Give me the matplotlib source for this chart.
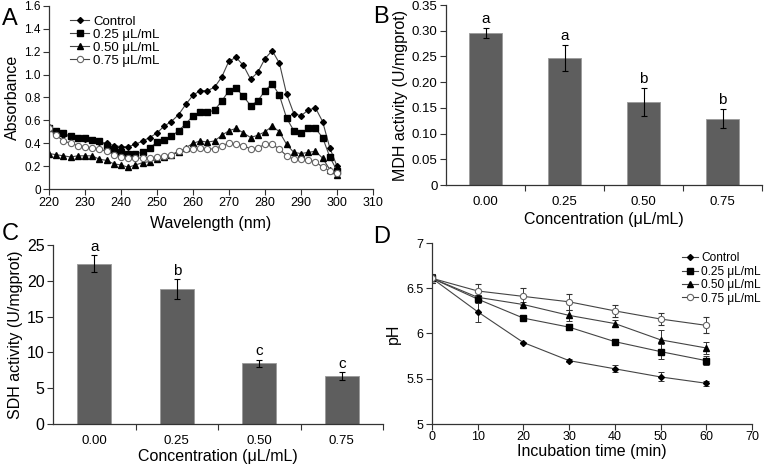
import numpy as np
import matplotlib
matplotlib.use("Agg")
import matplotlib.pyplot as plt
from matplotlib.ticker import FuncFormatter, FixedLocator

plt.rcParams['font.family'] = ['Liberation Sans', 'DejaVu Sans']

# ---------------- data ----------------
wavelength = list(range(220, 301, 2))
abs_control = [0.54, 0.49, 0.47, 0.46, 0.45, 0.44, 0.43, 0.41, 0.40, 0.38, 0.37,
               0.37, 0.39, 0.42, 0.45, 0.49, 0.55, 0.59, 0.65, 0.74, 0.82,
               0.86, 0.86, 0.89, 0.98, 1.12, 1.15, 1.08, 0.96, 1.02, 1.14,
               1.21, 1.10, 0.83, 0.66, 0.64, 0.69, 0.71, 0.59, 0.36, 0.20]
abs_025 = [0.53, 0.51, 0.49, 0.46, 0.45, 0.45, 0.43, 0.42, 0.38, 0.34, 0.32,
           0.31, 0.31, 0.32, 0.36, 0.41, 0.43, 0.46, 0.51, 0.57, 0.64,
           0.67, 0.67, 0.69, 0.77, 0.86, 0.88, 0.81, 0.73, 0.77, 0.86,
           0.92, 0.82, 0.62, 0.51, 0.49, 0.53, 0.53, 0.45, 0.28, 0.16]
abs_050 = [0.31, 0.30, 0.29, 0.28, 0.29, 0.29, 0.29, 0.26, 0.25, 0.22, 0.21,
           0.19, 0.21, 0.23, 0.24, 0.26, 0.28, 0.30, 0.32, 0.36, 0.40,
           0.42, 0.41, 0.42, 0.47, 0.51, 0.53, 0.49, 0.45, 0.47, 0.50,
           0.55, 0.50, 0.39, 0.32, 0.31, 0.32, 0.33, 0.27, 0.17, 0.12]
abs_075 = [0.53, 0.47, 0.42, 0.40, 0.38, 0.37, 0.36, 0.35, 0.33, 0.30, 0.28,
           0.27, 0.27, 0.27, 0.27, 0.28, 0.29, 0.30, 0.33, 0.35, 0.35,
           0.36, 0.35, 0.35, 0.38, 0.40, 0.39, 0.38, 0.35, 0.36, 0.39,
           0.39, 0.35, 0.29, 0.26, 0.26, 0.25, 0.24, 0.19, 0.16, 0.14]

series_labels = ['Control', '0.25 μL/mL', '0.50 μL/mL', '0.75 μL/mL']

conc_labels = ['0.00', '0.25', '0.50', '0.75']
mdh_values = [0.296, 0.247, 0.161, 0.129]
mdh_errors = [0.010, 0.025, 0.027, 0.018]
mdh_letters = ['a', 'a', 'b', 'b']

sdh_values = [22.4, 18.8, 8.5, 6.7]
sdh_errors = [1.2, 1.4, 0.5, 0.5]
sdh_letters = ['a', 'b', 'c', 'c']

time_min = [0, 10, 20, 30, 40, 50, 60]
ph_control = [6.61, 6.24, 5.90, 5.70, 5.61, 5.52, 5.45]
ph_control_err = [0.05, 0.11, 0.01, 0.02, 0.04, 0.05, 0.03]
ph_025 = [6.61, 6.38, 6.17, 6.07, 5.91, 5.80, 5.70]
ph_025_err = [0.05, 0.04, 0.02, 0.03, 0.03, 0.08, 0.05]
ph_050 = [6.61, 6.40, 6.32, 6.20, 6.11, 5.93, 5.84]
ph_050_err = [0.05, 0.03, 0.03, 0.06, 0.04, 0.11, 0.07]
ph_075 = [6.61, 6.47, 6.41, 6.35, 6.25, 6.16, 6.09]
ph_075_err = [0.05, 0.08, 0.09, 0.09, 0.07, 0.07, 0.09]

# ---------------- figure ----------------
W, H = 766, 465
fig = plt.figure(figsize=(W / 100, H / 100), dpi=100)


def ax_px(left, top, right, bottom):
    return fig.add_axes([left / W, (H - bottom) / H, (right - left) / W, (bottom - top) / H])


def style(ax):
    for s in ['top', 'right']:
        ax.spines[s].set_visible(False)
    for s in ['left', 'bottom']:
        ax.spines[s].set_linewidth(0.9)
        ax.spines[s].set_color('#333333')
    ax.tick_params(direction='out', length=4, width=0.8, labelsize=9, color='#333333', pad=2)


def panel_letter(x, baseline, s):
    fig.text(x / W, 1 - baseline / H, s, fontsize=17, va='baseline', ha='left')


line_color = '#444444'
styles = [
    dict(marker='D', ms=3, mfc='black', mec='black'),
    dict(marker='s', ms=5, mfc='black', mec='black'),
    dict(marker='^', ms=4.5, mfc='black', mec='black'),
    dict(marker='o', ms=4.5, mfc='white', mec='#666666', mew=0.8),
]

# ---- Panel A ----
axA = ax_px(49, 6, 373, 189)
style(axA)
for ys, st, lab in zip([abs_control, abs_025, abs_050, abs_075], styles, series_labels):
    axA.plot(wavelength, ys, color=line_color, lw=0.8, label=lab, **st)
axA.set_xlim(220, 310)
axA.set_ylim(0, 1.6)
axA.set_xticks(np.arange(220, 311, 10))
axA.set_yticks(np.arange(0, 1.61, 0.2))
axA.yaxis.set_major_formatter(FuncFormatter(lambda v, p: '0' if abs(v) < 1e-9 else f'{v:.1f}'))
axA.tick_params(axis='y', labelsize=8.5)
axA.set_xlabel('Wavelength (nm)', fontsize=11.5, labelpad=5)
axA.set_ylabel('Absorbance', fontsize=11.5, labelpad=3)
axA.legend(loc='upper left', bbox_to_anchor=(0.05, 0.975), frameon=False, fontsize=9.5,
           handlelength=1.4, handletextpad=0.3, labelspacing=0.05, borderaxespad=0)
panel_letter(2, 25, 'A')

# ---- Panel B ----
bar_color = '#5e5e5e'
x_pos = np.arange(len(conc_labels)) + 0.5
axB = ax_px(446, 5, 762, 185)
style(axB)
axB.bar(x_pos, mdh_values, width=0.41, color=bar_color, edgecolor='#9a9a9a', linewidth=0.6,
        yerr=mdh_errors, error_kw=dict(ecolor='black', elinewidth=0.8, capsize=2.5, capthick=0.8))
for xp, v, e, l in zip(x_pos, mdh_values, mdh_errors, mdh_letters):
    axB.text(xp, v + e + 0.004, l, ha='center', va='bottom', fontsize=11)
axB.set_xlim(0, 4)
axB.set_ylim(0, 0.35)
axB.set_yticks(np.arange(0, 0.351, 0.05))
axB.yaxis.set_major_formatter(FuncFormatter(lambda v, p: '0' if abs(v) < 1e-9 else f'{v:.2f}'))
axB.tick_params(axis='y', labelsize=9.5)
axB.xaxis.set_major_locator(FixedLocator([1, 2, 3, 4]))
axB.xaxis.set_minor_locator(FixedLocator(list(x_pos)))
axB.set_xticklabels([])
axB.set_xticklabels(conc_labels, minor=True)
axB.tick_params(axis='x', which='minor', length=0, labelsize=9.5, pad=8)
axB.set_xlabel('Concentration (μL/mL)', fontsize=11.5, labelpad=3)
axB.set_ylabel('MDH activity (U/mgprot)', fontsize=11.5, labelpad=3)
panel_letter(373, 23, 'B')

# ---- Panel C ----
axC = ax_px(53, 245, 383, 424)
style(axC)
axC.bar(x_pos, sdh_values, width=0.41, color=bar_color, edgecolor='#9a9a9a', linewidth=0.6,
        yerr=sdh_errors, error_kw=dict(ecolor='black', elinewidth=0.8, capsize=2.5, capthick=0.8))
for xp, v, e, l in zip(x_pos, sdh_values, sdh_errors, sdh_letters):
    axC.text(xp, v + e + 0.2, l, ha='center', va='bottom', fontsize=11)
axC.set_xlim(0, 4)
axC.set_ylim(0, 25)
axC.set_yticks(np.arange(0, 26, 5))
axC.tick_params(axis='y', labelsize=11.5)
axC.xaxis.set_major_locator(FixedLocator([1, 2, 3, 4]))
axC.xaxis.set_minor_locator(FixedLocator(list(x_pos)))
axC.set_xticklabels([])
axC.set_xticklabels(conc_labels, minor=True)
axC.tick_params(axis='x', which='minor', length=0, labelsize=9.5, pad=8)
axC.set_xlabel('Concentration (μL/mL)', fontsize=11.5, labelpad=1)
axC.set_ylabel('SDH activity (U/mgprot)', fontsize=11.5, labelpad=3)
panel_letter(2, 240, 'C')

# ---- Panel D ----
axD = ax_px(432, 243, 752, 424)
style(axD)
for ys, es, st, lab in zip([ph_control, ph_025, ph_050, ph_075],
                           [ph_control_err, ph_025_err, ph_050_err, ph_075_err],
                           styles, series_labels):
    axD.errorbar(time_min, ys, yerr=es, color=line_color, lw=0.8, label=lab,
                 ecolor='#333333', elinewidth=0.7, capsize=2, capthick=0.7, **st)
axD.set_xlim(0, 70)
axD.set_ylim(5, 7)
axD.set_xticks(np.arange(0, 71, 10))
axD.set_yticks([5, 5.5, 6, 6.5, 7])
axD.yaxis.set_major_formatter(FuncFormatter(lambda v, p: f'{v:g}'))
axD.tick_params(axis='x', pad=1)
axD.set_xlabel('Incubation time (min)', fontsize=11.5, labelpad=1)
axD.set_ylabel('pH', fontsize=11.5, labelpad=4)
hD, lD = axD.get_legend_handles_labels()
hD = [h[0] for h in hD]
axD.legend(hD, lD, loc='upper left', bbox_to_anchor=(0.765, 0.975), frameon=False, fontsize=8.6,
           handlelength=1.4, handletextpad=0.25, labelspacing=0.12, borderaxespad=0)
panel_letter(373, 243, 'D')

fig.savefig('out.png', dpi=100)
